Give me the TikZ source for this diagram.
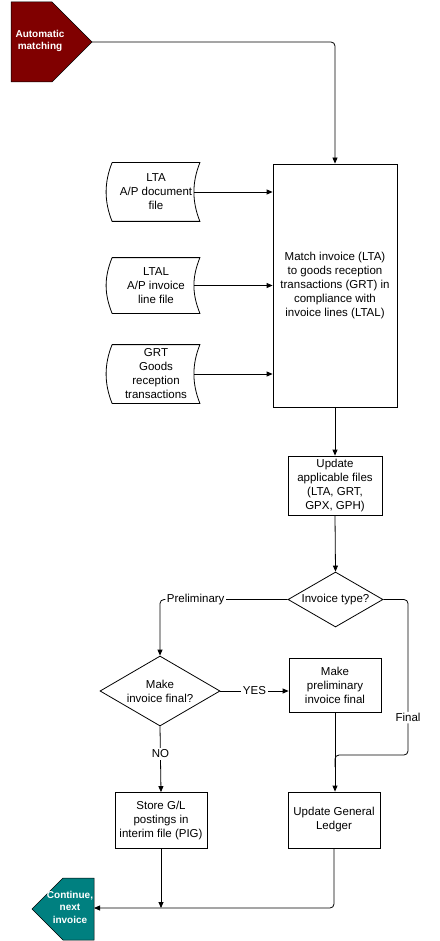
\documentclass[tikz,border=0pt]{standalone}
\usepackage{fontspec}
\setmainfont{Liberation Sans}
\usetikzlibrary{arrows.meta,shapes.geometric,calc}
\definecolor{autored}{RGB}{128,0,0}
\definecolor{contteal}{RGB}{0,128,128}
\begin{document}
\begin{tikzpicture}[x=1pt,y=-1pt,
  font=\fontsize{11.5}{14}\selectfont,
  line width=0.8pt,
  box/.style={draw, rectangle, align=center, inner sep=1pt},
  docnode/.style={rectangle, align=center, inner sep=0pt},
  dec/.style={draw, diamond, aspect=1.7, inner sep=0pt, align=center},
  arr/.style={-{Triangle[length=6pt,width=5pt]}},
  lbl/.style={fill=white, inner sep=1.5pt},
  pentxt/.style={text=white, font=\fontsize{10}{12.5}\selectfont\bfseries, align=center}]
\useasboundingbox (0,0) rectangle (439,941);

% start / end terminators
\filldraw[fill=autored, draw=black, line width=0.5pt] (11,2) -- (52,2) -- (92,42) -- (52,82) -- (11,82) -- cycle;
\node[pentxt] (auto) at (40,41) {Automatic\\matching};
\coordinate (autotip) at (92,42);

\filldraw[fill=contteal, draw=black, line width=0.5pt] (32,909) -- (63,878) -- (94,878) -- (94,940) -- (63,940) -- cycle;
\node[pentxt] (cont) at (70,907) {Continue,\\next\\invoice};
\coordinate (conte) at (94,908);

% documents
\node[docnode, minimum width=87, minimum height=58] (lta) at (156,192) {LTA\\A/P document\\file};
\node[docnode, minimum width=87, minimum height=55] (ltal) at (156,285.5) {LTAL\\A/P invoice\\line file};
\node[docnode, minimum width=87, minimum height=58] (grt) at (156,374) {GRT\\Goods\\reception\\transactions};
\foreach \n in {lta,ltal,grt}{
  \draw (\n.north west) -- (\n.north east)
    .. controls +(-8,20) and +(-8,-20) .. (\n.south east)
    -- (\n.south west)
    .. controls +(-8,-20) and +(-8,20) .. (\n.north west);
}

% process boxes
\node[box, minimum width=124, minimum height=243] (match) at (335,285.5)
  {Match invoice (LTA)\\to goods reception\\transactions (GRT) in\\compliance with\\invoice lines (LTAL)};
\node[box, minimum width=94, minimum height=59] (upd) at (335,485.5)
  {Update\\applicable files\\(LTA, GRT,\\GPX, GPH)};
\node[dec, minimum width=95, minimum height=55] (itype) at (335.5,599.5) {Invoice type?};
\node[dec, minimum width=120, minimum height=70] (mif) at (160,691) {Make\\invoice final?};
\node[box, minimum width=92, minimum height=54] (mpf) at (335,685) {Make\\preliminary\\invoice final};
\node[box, minimum width=92, minimum height=56] (ugl) at (334,820) {Update General\\Ledger};
\node[box, minimum width=92, minimum height=56] (store) at (161,820.5) {Store G/L\\postings in\\interim file (PIG)};
\coordinate (fx) at (408,755);

% connectors
\draw[arr, rounded corners=4] (autotip) -| (match.north);
\draw[arr] ([xshift=-6]lta.east) -- (lta.east -| match.west);
\draw[arr] ([xshift=-6]ltal.east) -- (ltal.east -| match.west);
\draw[arr] ([xshift=-6]grt.east) -- (grt.east -| match.west);
\draw[arr] (match.south) -- (upd.north);
\draw[arr] (upd.south) -- (itype.north);
\draw[arr, rounded corners=4] (itype.west) -| node[lbl, pos=0.36] {Preliminary} (mif.north);
\draw[arr] (mif.east) -- node[lbl] {YES} (mif.east -| mpf.west);
\draw[arr] (mif.south) -- node[lbl, pos=0.42] {NO} (store.north);
\draw[arr] (mpf.south) -- (mpf.south |- ugl.north);
\draw[rounded corners=4] (itype.east) -| node[lbl, pos=0.88] {Final} (fx)
  -- (fx -| mpf.south) -- ($(fx -| mpf.south)+(0,12)$);
\draw[arr, rounded corners=4] (ugl.south) |- (conte);
\draw[arr] (store.south) -- (store.south |- conte);
\end{tikzpicture}
\end{document}
